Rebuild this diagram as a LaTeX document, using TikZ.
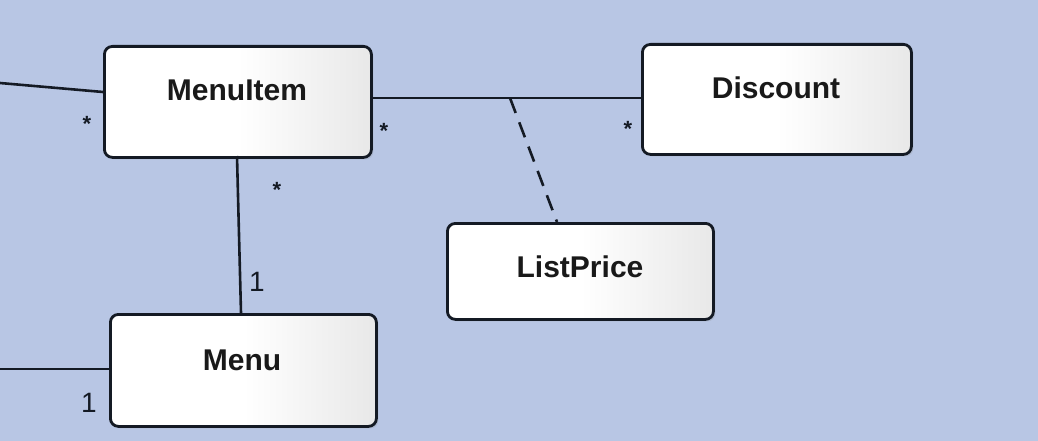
\documentclass[tikz,border=0pt]{standalone}
\usepackage{fontspec}
\setmainfont{Liberation Sans}
\usetikzlibrary{shadows}
\definecolor{bgblue}{HTML}{B8C6E4}
\definecolor{edgecol}{HTML}{141A24}
\tikzset{
  cls/.style={draw=edgecol, line width=2.8pt, rounded corners=8pt,
    left color=white, right color=black!9, middle color=white,
    drop shadow={shadow xshift=2pt, shadow yshift=-2pt, opacity=0.2},
    anchor=north west, inner sep=0pt},
  clsname/.style={font=\fontsize{30}{36}\selectfont\bfseries, text=black!90},
  assoc/.style={draw=edgecol, line width=2.6pt},
  mult/.style={font=\fontsize{28}{32}\selectfont, text=edgecol, inner sep=1pt},
  star/.style={font=\fontsize{22}{26}\selectfont\bfseries, text=edgecol, inner sep=1pt}
}
\begin{document}
\begin{tikzpicture}[x=1pt,y=-1pt]
\fill[bgblue] (0,0) rectangle (1038,441);
\useasboundingbox (0,0) rectangle (1038,441);
% class boxes
\node[cls, minimum width=267pt, minimum height=111pt] (mi) at (103,45) {};
\node[cls, minimum width=269pt, minimum height=110pt] (dc) at (641,43) {};
\node[cls, minimum width=266pt, minimum height=96pt] (lp) at (446,222) {};
\node[cls, minimum width=266pt, minimum height=112pt] (mn) at (109,313) {};
\node[clsname] (mit) at (237,90) {MenuItem};
\node[clsname] (dct) at (776,88) {Discount};
\node[clsname] (lpt) at (580,267) {ListPrice};
\node[clsname] (mnt) at (242,360) {Menu};
% coordinates
\coordinate (l1) at (0,83);
\coordinate (mil) at (103,92);
\coordinate (l2) at (0,369);
\coordinate (mnl) at (109,369);
\coordinate (mir) at (370,98);
\coordinate (dcl) at (641,98);
\coordinate (mid) at (510,98);
\coordinate (lpt0) at (557,222);
\coordinate (mib) at (237,156);
\coordinate (mnt0) at (241,313);
% connectors
\draw[assoc] (l1) -- (mil);
\draw[assoc] (l2) -- (mnl);
\draw[assoc] (mir) -- (dcl);
\draw[assoc] (mib) -- (mnt0);
\draw[assoc, dash pattern=on 16pt off 10pt] (mid) -- (lpt0);
% multiplicities
\node[star] (m1) at (87,124) {*};
\node[star] (m2) at (384,131) {*};
\node[star] (m3) at (628,129) {*};
\node[star] (m4) at (277,190) {*};
\node[mult] (m5) at (257,282) {1};
\node[mult] (m6) at (89,403) {1};
\end{tikzpicture}
\end{document}
